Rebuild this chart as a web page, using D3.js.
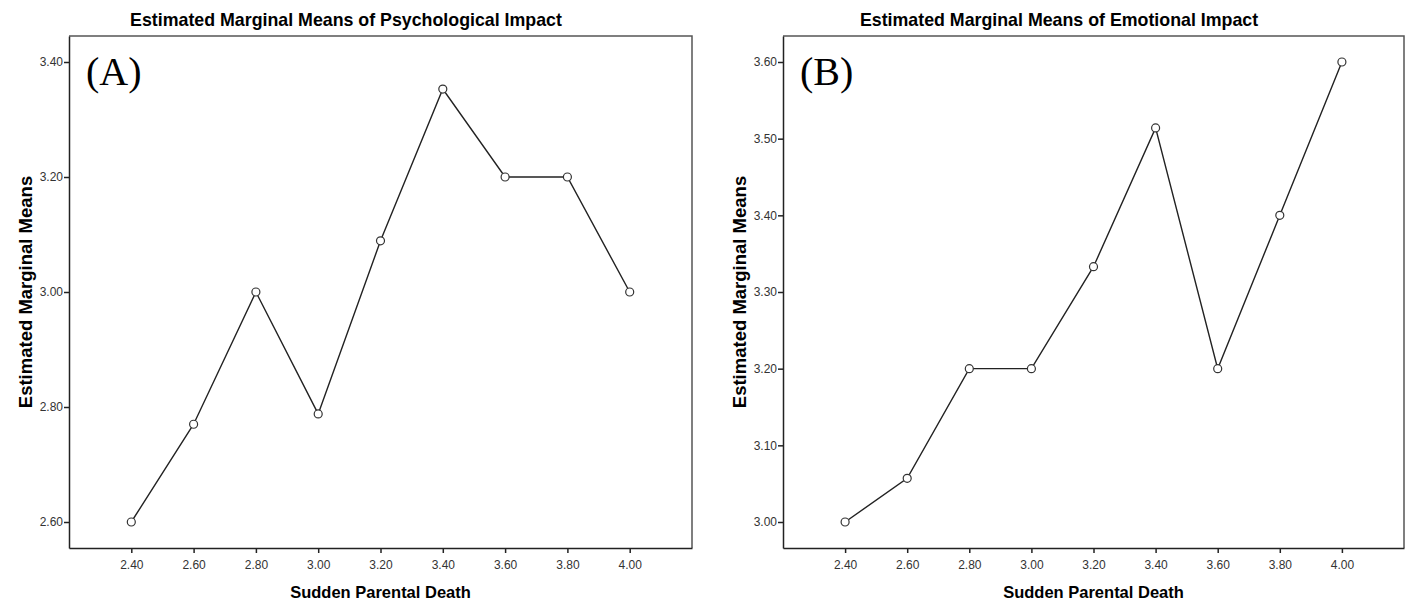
<!DOCTYPE html>
<html>
<head>
<meta charset="utf-8">
<script src="https://cdn.jsdelivr.net/npm/d3@7"></script>
<style>
  body { margin: 0; background: #fff; }
  svg text { font-family: "Liberation Sans", Arial, sans-serif; }
</style>
</head>
<body>
<svg id="chart" width="1411" height="604"></svg>
<script>
// x categories (shared by both panels)
var deathLevels = [2.4, 2.6, 2.8, 3.0, 3.2, 3.4, 3.6, 3.8, 4.0];

// panel A: psychological impact
var psychMeans = [2.60, 2.77, 3.00, 2.788, 3.089, 3.353, 3.20, 3.20, 3.00];
var psychTicks = [2.6, 2.8, 3.0, 3.2, 3.4];

// panel B: emotional impact
var emoMeans = [3.00, 3.057, 3.20, 3.20, 3.333, 3.514, 3.20, 3.40, 3.60];
var emoTicks = [3.0, 3.1, 3.2, 3.3, 3.4, 3.5, 3.6];

var svg = d3.select('#chart');

// draws one SPSS style profile plot
function drawPanel(opts) {
    var left = opts.left, right = opts.right, top = 36, bottom = 548;
    var g = svg.append('g');

    var x = d3.scaleLinear().domain([2.2, 4.2]).range([left, right]);
    var yLo = opts.ticks[0], yHi = opts.ticks[opts.ticks.length - 1];
    var pad = (yHi - yLo) * 26 / 460;
    var y = d3.scaleLinear().domain([yLo - pad, yHi + pad]).range([bottom, top]);

    // frame top + right (lighter)
    g.append('path')
        .attr('d', 'M' + left + ',' + top + 'H' + right + 'V' + bottom)
        .attr('fill', 'none').attr('stroke', '#555').attr('stroke-width', 1.5);

    var yAxis = d3.axisLeft(y).tickValues(opts.ticks).tickSizeInner(5).tickSizeOuter(0)
        .tickFormat(d3.format('.2f'));
    var xAxis = d3.axisBottom(x).tickValues(deathLevels).tickSizeInner(5).tickSizeOuter(0)
        .tickFormat(d3.format('.2f'));

    var ya = g.append('g').attr('transform', 'translate(' + left + ',0)').call(yAxis);
    var xa = g.append('g').attr('transform', 'translate(0,' + bottom + ')').call(xAxis);
    [ya, xa].forEach(function(a) {
        a.select('.domain').attr('stroke', '#222').attr('stroke-width', 1.5);
        a.selectAll('.tick line').attr('stroke', '#222').attr('stroke-width', 1.5);
        a.selectAll('.tick text').attr('fill', '#333').style('font-size', '12px');
    });
    ya.selectAll('.tick text').attr('x', -6);
    xa.selectAll('.tick text').attr('y', 12);

    var pts = deathLevels.map(function(d, i) { return [d, opts.values[i]]; });
    var line = d3.line().x(function(d) { return x(d[0]); }).y(function(d) { return y(d[1]); });
    g.append('path').datum(pts).attr('d', line)
        .attr('fill', 'none').attr('stroke', '#222').attr('stroke-width', 1.4);
    g.selectAll('circle.pt').data(pts).enter().append('circle')
        .attr('cx', function(d) { return x(d[0]); })
        .attr('cy', function(d) { return y(d[1]); })
        .attr('r', 4)
        .attr('fill', '#fff').attr('stroke', '#333').attr('stroke-width', 1.2);

    // titles (SPSS centres the main title over the whole chart incl. y title)
    g.append('text').attr('x', (left - 69 + right) / 2).attr('y', 26)
        .attr('text-anchor', 'middle').style('font-size', '17.8px').style('font-weight', 'bold')
        .text(opts.title);
    g.append('text').attr('x', (left + right) / 2).attr('y', 598)
        .attr('text-anchor', 'middle').style('font-size', '16.5px').style('font-weight', 'bold')
        .text('Sudden Parental Death');
    g.append('text')
        .attr('transform', 'translate(' + (left - 37.5) + ',' + ((top + bottom) / 2) + ') rotate(-90)')
        .attr('text-anchor', 'middle').style('font-size', '18.5px').style('font-weight', 'bold')
        .text('Estimated Marginal Means');

    // panel letter
    g.append('text').attr('x', left + 17).attr('y', 85)
        .style('font-family', '"Liberation Serif", "Times New Roman", serif')
        .style('font-size', '40px')
        .text(opts.letter);
}

drawPanel({ left: 69, right: 692, values: psychMeans, ticks: psychTicks,
    title: 'Estimated Marginal Means of Psychological Impact', letter: '(A)' });
drawPanel({ left: 783, right: 1404, values: emoMeans, ticks: emoTicks,
    title: 'Estimated Marginal Means of Emotional Impact', letter: '(B)' });
</script>
</body>
</html>
